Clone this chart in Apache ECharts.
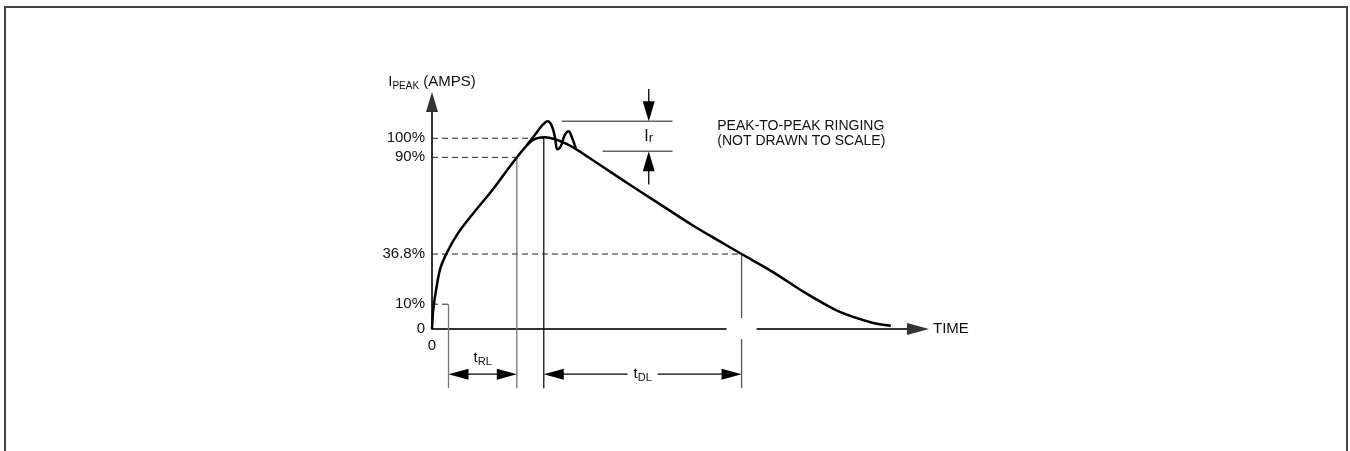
<!DOCTYPE html>
<html>
<head>
<meta charset="utf-8">
<script src="https://cdn.jsdelivr.net/npm/echarts@6/dist/echarts.min.js"></script>
<style>
  html, body { margin: 0; padding: 0; background: #fff; }
  #main { width: 1350px; height: 451px; }
</style>
</head>
<body>
<div id="main"></div>
<script>
// current pulse, time in arbitrary units (0..100), current in % of peak (drawn, not to scale)
const curveT = [0, 0.25, 0.62, 1.64, 3.02, 5.4, 8.83, 12.26, 17.4, 20.5, 23.2, 27.7, 33.1, 40, 46.8, 53.6, 58.7, 63.7, 70.0, 76.9, 83.8, 90.6, 94.4];
const curveI = [0, 10, 17, 31.1, 39.8, 50.4, 61.7, 72.3, 89.8, 98.6, 100.5, 97.0, 88.5, 76.8, 65.6, 54.4, 46.7, 39.3, 30.1, 18.8, 9.1, 3.3, 1.7];

// overshoot / ringing branch near the peak
const ringT = [19.5, 21.6, 22.8, 23.8, 24.6, 25.3, 25.8, 26.5, 27.3, 28.1, 28.7, 29.6];
const ringI = [96.3, 103.2, 107.1, 108.9, 106.8, 100.5, 94.2, 95.8, 101.6, 103.7, 101, 94.6];

// y tick levels (drawn height) and their labels
const levelValues = [0, 13, 39.3, 90, 100];
const levelLabels = ['0', '10%', '36.8%', '90%', '100%'];
const levelEndT = [0, 3.4, 63.7, 17.45, 23.0];

// time markers: t10, t90, tpeak, t36.8
const markerT = [3.4, 17.45, 23.0, 63.7];
const markerTop = [13, 90, 100, 39.3];
const markerBottom = -31;

// dimension arrows
const dimFrom = [3.4, 23.0];
const dimTo = [17.45, 63.7];
const dimLevel = -23.7;
const dimNames = ['{m|t}{s|RL}', '{m|t}{s|DL}'];

// ringing amplitude Ir
const irTopLine = [26.7, 49.5, 108.9];
const irBottomLine = [35.1, 49.5, 93.2];
const irArrowT = 44.6;
const irArrowFrom = [125.8, 75.8];

// time axis break at t36.8
const breakT = 63.7;

const FONT = '"Liberation Sans", Arial, Helvetica, sans-serif';
const INK = '#111';
const markerColors = ['#777', '#777', '#111', '#555'];
const dimLabelDy = [-16, 0];

const subRich = {
  m: { fontSize: 15, lineHeight: 18, fontFamily: FONT, fill: INK },
  s: { fontSize: 11, lineHeight: 12, fontFamily: FONT, fill: INK, verticalAlign: 'bottom' }
};

function seg(p, q, style) {
  return { type: 'line', shape: { x1: p[0], y1: p[1], x2: q[0], y2: q[1] }, style: style };
}
function head(tip, dir, len, half) {
  const bx = tip[0] - dir[0] * len, by = tip[1] - dir[1] * len;
  return {
    type: 'polygon',
    shape: { points: [tip, [bx - dir[1] * half, by + dir[0] * half], [bx + dir[1] * half, by - dir[0] * half]] },
    style: { fill: '#000' }
  };
}

let chart = echarts.init(document.getElementById('main'));

let option = {
  animation: false,
  backgroundColor: '#fff',
  grid: { left: 432, top: 102, width: 486, height: 227, outerBoundsMode: 'none' },
  graphic: [{
    type: 'rect', silent: true,
    shape: { x: 5, y: 7, width: 1342, height: 480 },
    style: { fill: 'none', stroke: '#444', lineWidth: 2 }
  }],
  xAxis: {
    type: 'value', min: 0, max: 100,
    name: 'TIME', nameLocation: 'end', nameGap: 15,
    nameTextStyle: { fontSize: 15, color: INK, fontFamily: FONT },
    axisLine: { symbol: ['none', 'triangle'], symbolSize: [12, 22], lineStyle: { color: '#333', width: 2 } },
    axisTick: { show: false },
    splitLine: { show: false },
    axisLabel: { customValues: [0], formatter: () => '0', margin: 9, fontSize: 15, color: INK, fontFamily: FONT }
  },
  yAxis: {
    type: 'value', min: 0, max: 119,
    name: '{a|I}{b|PEAK}{a| (AMPS)}', nameLocation: 'end', nameGap: 11,
    nameTextStyle: {
      rich: {
        a: { fontSize: 15, lineHeight: 18, color: INK, fontFamily: FONT },
        b: { fontSize: 10, lineHeight: 12, color: INK, fontFamily: FONT, verticalAlign: 'bottom' }
      }
    },
    axisLine: { symbol: ['none', 'triangle'], symbolSize: [12, 20], lineStyle: { color: '#333', width: 2 } },
    axisTick: { show: false },
    splitLine: { show: false },
    axisLabel: {
      customValues: levelValues,
      formatter: (v) => { const k = levelValues.indexOf(v); return k < 0 ? '' : levelLabels[k]; },
      margin: 7, fontSize: 15, color: INK, fontFamily: FONT
    }
  },
  series: [
    {
      name: 'levels', type: 'custom', clip: false, z: 3,
      data: levelValues.map((v, i) => [levelEndT[i], v]).slice(1),
      renderItem: (params, api) => {
        const p = api.coord([0, api.value(1)]);
        const q = api.coord([api.value(0), api.value(1)]);
        return seg(p, q, { stroke: '#222', lineWidth: 1, lineDash: [6, 4] });
      }
    },
    {
      name: 'markers', type: 'custom', clip: false, z: 3,
      data: markerT.map((t, i) => [t, markerTop[i], markerBottom]),
      renderItem: (params, api) => {
        const p = api.coord([api.value(0), api.value(1)]);
        const q = api.coord([api.value(0), api.value(2)]);
        return seg(p, q, { stroke: markerColors[params.dataIndex], lineWidth: 1.3 });
      }
    },
    {
      name: 'break', type: 'custom', clip: false, z: 5,
      data: [[breakT, 0]],
      renderItem: (params, api) => {
        const c = api.coord([api.value(0), api.value(1)]);
        return { type: 'rect', shape: { x: c[0] - 15, y: c[1] - 11, width: 30, height: 21 }, style: { fill: '#fff' } };
      }
    },
    {
      name: 'dims', type: 'custom', clip: false, z: 6,
      data: dimFrom.map((t, i) => [t, dimTo[i], dimLevel]),
      renderItem: (params, api) => {
        const i = params.dataIndex;
        const a = api.coord([api.value(0), api.value(2)]);
        const b = api.coord([api.value(1), api.value(2)]);
        return {
          type: 'group',
          children: [
            seg([a[0] + 18, a[1]], [b[0] - 18, b[1]], { stroke: '#000', lineWidth: 1.3 }),
            head(a, [-1, 0], 20, 5.5),
            head(b, [1, 0], 20, 5.5),
            {
              type: 'text', x: (a[0] + b[0]) / 2, y: a[1] + dimLabelDy[i],
              style: {
                text: dimNames[i], rich: subRich, align: 'center', verticalAlign: 'middle',
                backgroundColor: i === 1 ? '#fff' : 'transparent', padding: [0, 6]
              }
            }
          ]
        };
      }
    },
    {
      name: 'ringing size', type: 'custom', clip: false, z: 6,
      data: [[irArrowT, irTopLine[2], irBottomLine[2]]],
      renderItem: (params, api) => {
        const top0 = api.coord([irTopLine[0], irTopLine[2]]);
        const top1 = api.coord([irTopLine[1], irTopLine[2]]);
        const bot0 = api.coord([irBottomLine[0], irBottomLine[2]]);
        const bot1 = api.coord([irBottomLine[1], irBottomLine[2]]);
        const tipA = api.coord([api.value(0), api.value(1)]);
        const tipB = api.coord([api.value(0), api.value(2)]);
        const fromA = api.coord([api.value(0), irArrowFrom[0]]);
        const fromB = api.coord([api.value(0), irArrowFrom[1]]);
        return {
          type: 'group',
          children: [
            seg(top0, top1, { stroke: '#666', lineWidth: 1.5 }),
            seg(bot0, bot1, { stroke: '#666', lineWidth: 1.5 }),
            seg(fromA, [tipA[0], tipA[1] - 18], { stroke: '#000', lineWidth: 1.3 }),
            seg(fromB, [tipB[0], tipB[1] + 18], { stroke: '#000', lineWidth: 1.3 }),
            head(tipA, [0, 1], 20, 6),
            head(tipB, [0, -1], 20, 6),
            {
              type: 'text', x: tipA[0], y: (tipA[1] + tipB[1]) / 2,
              style: {
                text: '{m|I}{s|r}', align: 'center', verticalAlign: 'middle',
                rich: {
                  m: { fontSize: 16, lineHeight: 18, fontFamily: FONT, fill: INK },
                  s: { fontSize: 13, lineHeight: 12, fontFamily: FONT, fill: INK, verticalAlign: 'bottom' }
                }
              }
            }
          ]
        };
      }
    },
    {
      name: 'note', type: 'custom', clip: false, z: 6,
      data: [[58.7, 102.4]],
      renderItem: (params, api) => {
        const c = api.coord([api.value(0), api.value(1)]);
        return {
          type: 'text', x: c[0], y: c[1],
          style: {
            text: 'PEAK-TO-PEAK RINGING\n(NOT DRAWN TO SCALE)', align: 'left', verticalAlign: 'middle',
            fontSize: 14, lineHeight: 15, fontFamily: FONT, fill: INK
          }
        };
      }
    },
    {
      name: 'IPEAK', type: 'line', clip: false, z: 4,
      data: curveT.map((t, i) => [t, curveI[i]]),
      smooth: 0.3,
      showSymbol: false, symbol: 'none',
      lineStyle: { color: '#000', width: 2.5 }
    },
    {
      name: 'ringing', type: 'line', clip: false, z: 4,
      data: ringT.map((t, i) => [t, ringI[i]]),
      smooth: 0.4,
      showSymbol: false, symbol: 'none',
      lineStyle: { color: '#000', width: 2.5 }
    }
  ]
};

chart.setOption(option);
</script>
</body>
</html>
